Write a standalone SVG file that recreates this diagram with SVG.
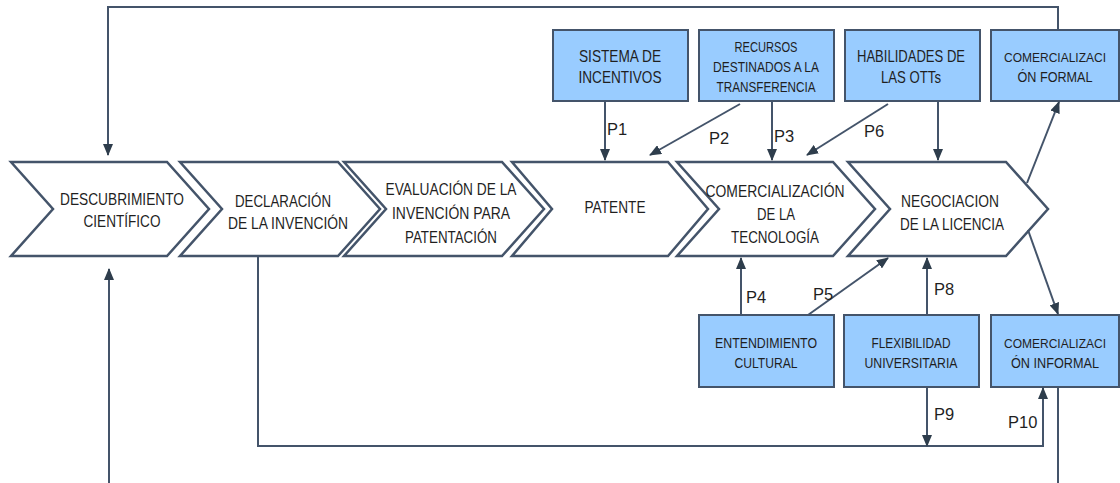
<svg xmlns="http://www.w3.org/2000/svg" width="1120" height="483" viewBox="0 0 1120 483">
  <style>
    .chev { fill: #ffffff; stroke: #44546A; stroke-width: 2.5; stroke-linejoin: miter; }
    .box { fill: #99CCFF; stroke: #44546A; stroke-width: 2; }
    .t { font-family: "Liberation Sans", Arial, sans-serif; fill: #1f1f1f; text-anchor: middle; }
    .ct { font-size: 17px; }
    .bt { font-size: 15.5px; }
    .bt2 { font-size: 16.5px; }
    .bs { font-size: 13.5px; }
    .lbl { font-family: "Liberation Sans", Arial, sans-serif; font-size: 16.5px; fill: #1f1f1f; }
    .ln { fill: none; stroke: #44546A; stroke-width: 2; }
    .arr { marker-end: url(#head); }
  </style>
  <defs>
    <marker id="head" markerWidth="12" markerHeight="10" refX="11" refY="5" orient="auto" markerUnits="userSpaceOnUse">
      <path d="M0,0 L12,5 L0,10 Z" fill="#2E3D4C"/>
    </marker>
  </defs>

  <!-- process chevrons -->
  <g id="descubrimiento">
    <path class="chev" d="M11,162 L167,162 L209,209 L167,256 L11,256 L53,209 Z"/>
    <text class="t ct" x="122" y="205" textLength="124" lengthAdjust="spacingAndGlyphs">DESCUBRIMIENTO</text>
    <text class="t ct" x="122" y="227" textLength="77" lengthAdjust="spacingAndGlyphs">CIENTÍFICO</text>
  </g>
  <g id="declaracion">
    <path class="chev" d="M180,162 L338,162 L380,209 L338,256 L180,256 L222,209 Z"/>
    <text class="t ct" x="283" y="207" textLength="96" lengthAdjust="spacingAndGlyphs">DECLARACIÓN</text>
    <text class="t ct" x="288" y="229" textLength="120" lengthAdjust="spacingAndGlyphs">DE LA INVENCIÓN</text>
  </g>
  <g id="evaluacion">
    <path class="chev" d="M344,162 L502,162 L544,209 L502,256 L344,256 L386,209 Z"/>
    <text class="t ct" x="451" y="195" textLength="131" lengthAdjust="spacingAndGlyphs">EVALUACIÓN DE LA</text>
    <text class="t ct" x="451" y="219" textLength="118" lengthAdjust="spacingAndGlyphs">INVENCIÓN PARA</text>
    <text class="t ct" x="451" y="243" textLength="92" lengthAdjust="spacingAndGlyphs">PATENTACIÓN</text>
  </g>
  <g id="patente">
    <path class="chev" d="M512,162 L668,162 L708,209 L668,256 L512,256 L552,209 Z"/>
    <text class="t ct" x="615" y="213" textLength="61" lengthAdjust="spacingAndGlyphs">PATENTE</text>
  </g>
  <g id="comercializacion">
    <path class="chev" d="M677,162 L833,162 L875,209 L833,256 L677,256 L719,209 Z"/>
    <text class="t ct" x="775" y="197" textLength="139" lengthAdjust="spacingAndGlyphs">COMERCIALIZACIÓN</text>
    <text class="t ct" x="776" y="220" textLength="38" lengthAdjust="spacingAndGlyphs">DE LA</text>
    <text class="t ct" x="775" y="243" textLength="88" lengthAdjust="spacingAndGlyphs">TECNOLOGÍA</text>
  </g>
  <g id="negociacion">
    <path class="chev" d="M848,162 L1006,162 L1048,209 L1006,256 L848,256 L890,209 Z"/>
    <text class="t ct" x="950" y="207" textLength="98" lengthAdjust="spacingAndGlyphs">NEGOCIACION</text>
    <text class="t ct" x="952" y="230" textLength="104" lengthAdjust="spacingAndGlyphs">DE LA LICENCIA</text>
  </g>

  <!-- factor boxes, upper row -->
  <g id="incentivos">
    <rect class="box" x="553" y="30" width="135" height="71"/>
    <text class="t bt2" x="620" y="62" textLength="82" lengthAdjust="spacingAndGlyphs">SISTEMA DE</text>
    <text class="t bt2" x="620" y="83" textLength="83" lengthAdjust="spacingAndGlyphs">INCENTIVOS</text>
  </g>
  <g id="recursos">
    <rect class="box" x="699" y="30" width="135" height="71"/>
    <text class="t bt" x="766" y="52" textLength="63" lengthAdjust="spacingAndGlyphs">RECURSOS</text>
    <text class="t bt" x="766" y="72" textLength="106" lengthAdjust="spacingAndGlyphs">DESTINADOS A LA</text>
    <text class="t bt" x="766" y="92" textLength="99" lengthAdjust="spacingAndGlyphs">TRANSFERENCIA</text>
  </g>
  <g id="habilidades">
    <rect class="box" x="845" y="30" width="135" height="71"/>
    <text class="t bt2" x="911" y="62" textLength="108" lengthAdjust="spacingAndGlyphs">HABILIDADES DE</text>
    <text class="t bt2" x="911" y="83" textLength="60" lengthAdjust="spacingAndGlyphs">LAS OTTs</text>
  </g>
  <g id="formal">
    <rect class="box" x="991" y="30" width="128" height="71"/>
    <text class="t bs" x="1055" y="62" textLength="102" lengthAdjust="spacingAndGlyphs">COMERCIALIZACI</text>
    <text class="t bt" x="1055" y="82" textLength="75" lengthAdjust="spacingAndGlyphs">ÓN FORMAL</text>
  </g>

  <!-- factor boxes, lower row -->
  <g id="entendimiento">
    <rect class="box" x="699" y="315" width="135" height="72"/>
    <text class="t bt" x="766" y="348" textLength="102" lengthAdjust="spacingAndGlyphs">ENTENDIMIENTO</text>
    <text class="t bt" x="766" y="368" textLength="63" lengthAdjust="spacingAndGlyphs">CULTURAL</text>
  </g>
  <g id="flexibilidad">
    <rect class="box" x="844" y="315" width="135" height="72"/>
    <text class="t bt" x="911" y="348" textLength="79" lengthAdjust="spacingAndGlyphs">FLEXIBILIDAD</text>
    <text class="t bt" x="911" y="368" textLength="93" lengthAdjust="spacingAndGlyphs">UNIVERSITARIA</text>
  </g>
  <g id="informal">
    <rect class="box" x="991" y="315" width="128" height="72"/>
    <text class="t bs" x="1055" y="348" textLength="102" lengthAdjust="spacingAndGlyphs">COMERCIALIZACI</text>
    <text class="t bt" x="1055" y="368" textLength="88" lengthAdjust="spacingAndGlyphs">ÓN INFORMAL</text>
  </g>

  <!-- connectors -->
  <g id="connectors">
    <!-- feedback loops -->
    <polyline class="ln arr" points="1058,30 1058,7 108,7 108,155"/>
    <line class="ln arr" x1="109" y1="483" x2="109" y2="269"/>
    <polyline class="ln arr" points="258,257 258,446 1043,446 1043,388"/>
    <line class="ln" x1="1058" y1="387" x2="1058" y2="483"/>

    <!-- upper factors -->
    <line class="ln arr" x1="605" y1="101" x2="605" y2="160"/>
    <line class="ln arr" x1="740" y1="104" x2="650" y2="155"/>
    <line class="ln arr" x1="772" y1="101" x2="772" y2="160"/>
    <line class="ln arr" x1="888" y1="104" x2="807" y2="155"/>
    <line class="ln arr" x1="938" y1="101" x2="938" y2="160"/>

    <!-- outcomes of the negotiation -->
    <line class="ln arr" x1="1027" y1="183" x2="1059" y2="102"/>
    <line class="ln arr" x1="1028" y1="230" x2="1058" y2="314"/>

    <!-- lower factors -->
    <line class="ln arr" x1="741" y1="315" x2="741" y2="258"/>
    <line class="ln arr" x1="808" y1="315" x2="888" y2="258"/>
    <line class="ln arr" x1="927" y1="315" x2="927" y2="258"/>
    <line class="ln arr" x1="927" y1="387" x2="927" y2="446"/>

    <!-- relation labels -->
    <text class="lbl" x="607" y="135">P1</text>
    <text class="lbl" x="709" y="144">P2</text>
    <text class="lbl" x="774" y="142">P3</text>
    <text class="lbl" x="864" y="137">P6</text>
    <text class="lbl" x="746" y="303">P4</text>
    <text class="lbl" x="813" y="300">P5</text>
    <text class="lbl" x="934" y="295">P8</text>
    <text class="lbl" x="934" y="420">P9</text>
    <text class="lbl" x="1008" y="428">P10</text>
  </g>
</svg>
